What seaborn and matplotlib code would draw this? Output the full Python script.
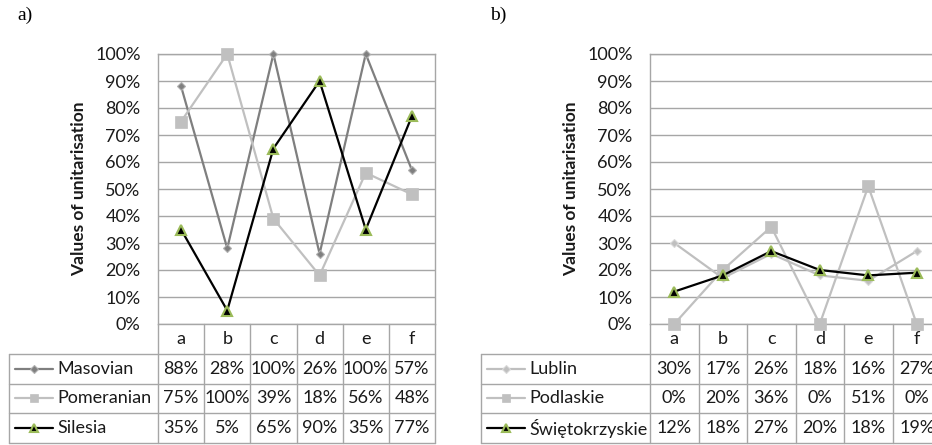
import numpy as np
import pandas as pd
import matplotlib
matplotlib.use('Agg')
import matplotlib.pyplot as plt
from matplotlib.ticker import PercentFormatter
import seaborn as sns

categories = ['a', 'b', 'c', 'd', 'e', 'f']

names_a = ['Masovian', 'Pomeranian', 'Silesia']
masovian = [88, 28, 100, 26, 100, 57]
pomeranian = [75, 100, 39, 18, 56, 48]
silesia = [35, 5, 65, 90, 35, 77]

names_b = ['Lublin', 'Podlaskie', 'Świętokrzyskie']
lublin = [30, 17, 26, 18, 16, 27]
podlaskie = [0, 20, 36, 0, 51, 0]
swietokrzyskie = [12, 18, 27, 20, 18, 19]

sns.set_theme(style='white')
plt.rcParams['font.family'] = ['Lato', 'DejaVu Sans']

W, H = 932, 445
fig = plt.figure(figsize=(W / 100, H / 100), dpi=100)

GRID = '#a6a6a6'
TXT = '#1a1a1a'

# style for each of the three series (line colour, marker, size, face, edge)
styles = [
    dict(color='#7f7f7f', marker='D', markersize=4.5, markerfacecolor='#7f7f7f',
         markeredgecolor='#b0b0b0', markeredgewidth=0.8),
    dict(color='#c0c0c0', marker='s', markersize=8, markerfacecolor='#c0c0c0',
         markeredgecolor='#c0c0c0', markeredgewidth=0.5),
    dict(color='#000000', marker='^', markersize=7, markerfacecolor='#000000',
         markeredgecolor='#9bbb59', markeredgewidth=1.5),
]
styles_b = [dict(styles[0]), dict(styles[1]), dict(styles[2])]
styles_b[0].update(color='#bfbfbf', markerfacecolor='#bfbfbf', markeredgecolor='#d9d9d9')


def ax_px(x0, y0, x1, y1):
    return fig.add_axes([x0 / W, 1 - y1 / H, (x1 - x0) / W, (y1 - y0) / H])


def panel(label, lx, tleft, pleft, pright, names, series, sty):
    fig.text(lx / W, 1 - 15 / H, label, family='Liberation Serif', fontsize=14,
             ha='left', va='center', color='black')
    ax = ax_px(pleft, 54, pright, 324)
    x = np.arange(len(categories))
    for name, vals, st in zip(names, series, sty):
        df = pd.DataFrame({'x': x, 'y': np.array(vals) / 100})
        sns.lineplot(data=df, x='x', y='y', ax=ax, linewidth=1.6, clip_on=False,
                     zorder=3, **st)
    ax.set_xlim(-0.5, len(categories) - 0.5)
    ax.set_ylim(0, 1)
    ax.set_yticks(np.arange(0, 1.01, 0.1))
    ax.yaxis.set_major_formatter(PercentFormatter(1.0, decimals=0))
    ax.set_xticks([])
    ax.set_xlabel('')
    ax.set_ylabel('Values of unitarisation', fontsize=12.5, fontweight='bold',
                  color=TXT)
    ax.yaxis.set_label_coords(-71 / (pright - pleft), 0.5)
    ax.tick_params(axis='y', length=0, labelsize=13, labelcolor=TXT, pad=12.5)
    ax.grid(axis='y', color=GRID, linewidth=1)
    for s in ax.spines.values():
        s.set_color(GRID)
        s.set_linewidth(1)

    # data table below
    colw = (pright - pleft) / len(categories)
    tx = ax_px(tleft, 324, pright, 443)
    xl = -0.5 - (pleft - tleft) / colw
    n = len(categories)
    tx.set_xlim(xl, n - 0.5)
    tx.set_ylim(4, 0)
    tx.axis('off')
    kw = dict(color=GRID, linewidth=1, clip_on=False)
    for b in np.arange(-0.5, n, 1.0):
        tx.plot([b, b], [0, 4], **kw)
    tx.plot([xl, xl], [1, 4], **kw)
    for r in [1, 2, 3, 4]:
        tx.plot([xl, n - 0.5], [r, r], **kw)
    for i, c in enumerate(categories):
        tx.text(i, 0.5, c, ha='center', va='center', fontsize=13, color=TXT)
    for r, (name, vals, st) in enumerate(zip(names, series, sty), start=1):
        x0 = xl + 6 / colw
        x1 = xl + 44 / colw
        st2 = dict(st)
        st2['markersize'] = st['markersize'] * 0.8
        tx.plot([x0, (x0 + x1) / 2, x1], [r + 0.5] * 3, linewidth=1.6,
                markevery=[1], clip_on=False, **st2)
        tx.text(x1 + 4 / colw, r + 0.5, name, ha='left', va='center',
                fontsize=13, color=TXT)
        for i, v in enumerate(vals):
            tx.text(i, r + 0.5, f'{v}%', ha='center', va='center',
                    fontsize=13, color=TXT)
    return ax


panel('a)', 17, 9, 158, 435, names_a, [masovian, pomeranian, silesia], styles)
panel('b)', 490, 481, 650, 941, names_b, [lublin, podlaskie, swietokrzyskie], styles_b)

fig.savefig('out.png', dpi=100, facecolor='white')
